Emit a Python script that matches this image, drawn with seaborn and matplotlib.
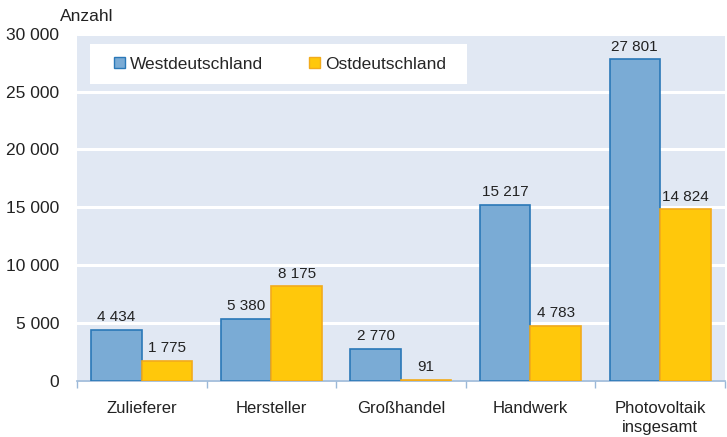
import matplotlib
matplotlib.use("Agg")
import matplotlib.pyplot as plt
import seaborn as sns
import pandas as pd
import numpy as np
from matplotlib.patches import Patch, Rectangle

sns.set_theme(style="white")
plt.rcParams['font.family'] = ['Liberation Sans', 'DejaVu Sans']

categories = ["Zulieferer", "Hersteller", "Großhandel", "Handwerk", "Photovoltaik\ninsgesamt"]
west = [4434, 5380, 2770, 15217, 27801]
ost = [1775, 8175, 91, 4783, 14824]
series = ["Westdeutschland", "Ostdeutschland"]

df = pd.DataFrame({
    "kategorie": categories * 2,
    "wert": west + ost,
    "region": [series[0]] * len(categories) + [series[1]] * len(categories),
})

face = {"Westdeutschland": "#7aabd5", "Ostdeutschland": "#ffc80b"}
edge = {"Westdeutschland": "#2a78b8", "Ostdeutschland": "#f2ab1c"}

fig = plt.figure(figsize=(7.27, 4.37), dpi=100)
ax = fig.add_axes([0.106, 0.128, 0.891, 0.795])
ax.set_facecolor("#e1e8f3")

sns.barplot(data=df, x="kategorie", y="wert", hue="region", palette=face,
            width=0.78, ax=ax, legend=False, saturation=1)

def fmt(v):
    return f"{v:,}".replace(",", " ")

for cont, name in zip(ax.containers, series):
    for bar in cont:
        bar.set_edgecolor(edge[name])
        bar.set_linewidth(1.2)
        bar.set_zorder(3)
    ax.bar_label(cont, labels=[fmt(int(b.get_height())) for b in cont],
                 padding=4, fontsize=11, color="#222222")

ax.set_ylim(0, 30000)
ax.set_xlim(-0.5, len(categories) - 0.5)
ax.set_yticks(np.arange(0, 30001, 5000))
ax.set_yticklabels([fmt(int(v)) for v in np.arange(0, 30001, 5000)], fontsize=12.5, color="#222222")
ax.yaxis.grid(True, color="white", linewidth=2.2, zorder=0)
ax.set_axisbelow(True)
ax.tick_params(axis="y", length=0, pad=13)

ax.set_xticks(range(len(categories)))
ax.set_xticklabels(categories, fontsize=12, color="#222222", linespacing=1.35)
ax.set_xticks(np.arange(-0.5, len(categories), 1.0), minor=True)
ax.tick_params(axis="x", which="major", length=0, pad=14)
ax.tick_params(axis="x", which="minor", length=5, color="#9bb8d8", width=1, direction="out", bottom=True)

ax.set_xlabel("")
ax.set_ylabel("")
for s in ["top", "right", "left"]:
    ax.spines[s].set_visible(False)
ax.spines["bottom"].set_color("#9bb8d8")
ax.spines["bottom"].set_linewidth(1.2)

fig.text(0.083, 0.946, "Anzahl", fontsize=12.5, color="#222222", ha="left", va="bottom")

# white legend box
ax.add_patch(Rectangle((0.020, 0.855), 0.582, 0.115, transform=ax.transAxes,
                       facecolor="white", edgecolor="none", zorder=4))
handles = [Patch(facecolor=face[s], edgecolor=edge[s], label=s) for s in series]
leg = ax.legend(handles=handles, ncol=2, loc="center left", bbox_to_anchor=(0.057, 0.9125),
                frameon=False, fontsize=12.5, handlelength=0.64, handleheight=0.64,
                handletextpad=0.29, columnspacing=2.65, borderpad=0.0, borderaxespad=0.0)
leg.set_zorder(5)

fig.savefig("out.png", dpi=100)
